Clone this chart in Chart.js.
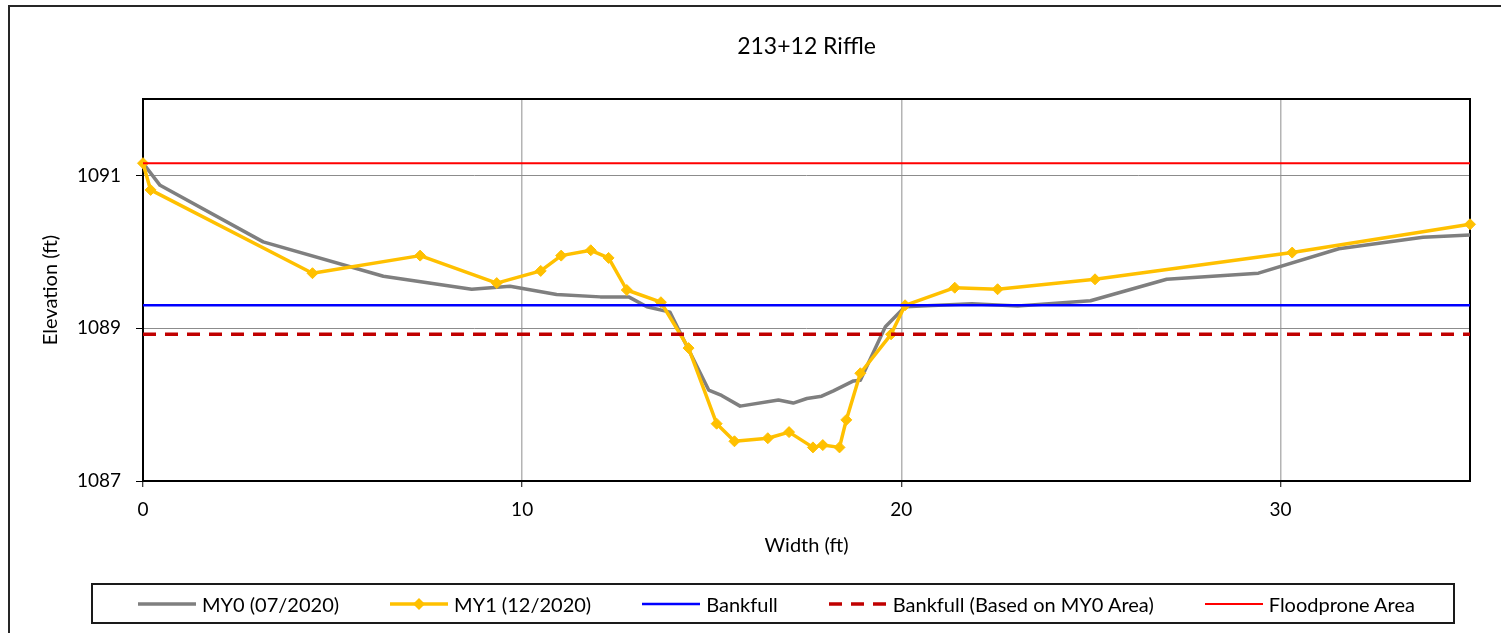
<!DOCTYPE html>
<html lang="en">
<head>
<meta charset="utf-8">
<title>213+12 Riffle</title>
<script src="https://cdn.jsdelivr.net/npm/chart.js@4.4.1/dist/chart.umd.min.js"></script>
<style>
  html, body { margin: 0; padding: 0; background: #fff; overflow: hidden; }
  #wrap { position: relative; width: 1501px; height: 633px; }
  #frame { position: absolute; left: 8px; top: 5px; width: 1600px; height: 700px; border: 2px solid #262626; box-sizing: border-box; }
  #grafico { position: absolute; left: 0; top: 0; }
  #legenda { position: absolute; left: 91px; top: 583px; width: 1364px; height: 41px; border: 2px solid #1a1a1a; box-sizing: border-box;
             display: flex; align-items: center; padding-left: 45px; font-family: Lato, "Open Sans", sans-serif; font-size: 20px; color: #000; }
  .item { display: flex; align-items: center; margin-right: 51px; white-space: nowrap; }
  .item canvas { margin-right: 6px; }
</style>
</head>
<body>
<div id="wrap">
  <div id="frame"></div>
  <canvas id="grafico" width="1501" height="633"></canvas>
  <div id="legenda"></div>
</div>
<script>
/* ================= DADOS ================= */
const titulo = "213+12 Riffle";

const my0X = [0, 0.45, 3.17, 6.34, 8.67, 9.68, 10.91, 12.06, 12.81, 13.29, 13.9, 14.92, 15.26, 15.75, 16.76, 17.15,
  17.51, 17.9, 18.21, 18.74, 18.92, 19.58, 20.1, 21.86, 23.07, 24.99, 27.0, 29.42, 31.54, 33.76, 35];
const my0Y = [1091.16, 1090.87, 1090.13, 1089.68, 1089.51, 1089.55, 1089.44, 1089.41, 1089.41, 1089.28, 1089.21, 1088.19,
  1088.12, 1087.98, 1088.06, 1088.02, 1088.08, 1088.11, 1088.18, 1088.31, 1088.32, 1089.02, 1089.28, 1089.32, 1089.29,
  1089.36, 1089.64, 1089.72, 1090.04, 1090.19, 1090.22];

const my1X = [0, 0.2, 4.47, 7.31, 9.33, 10.49, 11.03, 11.81, 12.28, 12.76, 13.66, 14.39, 15.13, 15.6, 16.48, 17.04,
  17.67, 17.93, 18.37, 18.55, 18.92, 19.73, 20.1, 21.41, 22.54, 25.11, 30.31, 35];
const my1Y = [1091.16, 1090.81, 1089.72, 1089.95, 1089.59, 1089.75, 1089.95, 1090.02, 1089.92, 1089.5, 1089.34, 1088.74,
  1087.75, 1087.52, 1087.56, 1087.64, 1087.44, 1087.47, 1087.44, 1087.8, 1088.41, 1088.92, 1089.3, 1089.53, 1089.51,
  1089.64, 1089.99, 1090.36];

const bankfull = 1089.30;
const bankfullMY0 = 1088.92;
const floodprone = 1091.16;

const xLimites = [0, 35];
const yLimites = [1087, 1092];
const xTicks = [0, 10, 20, 30];
const yTicks = [1087, 1089, 1091];

/* ================= HELPERS ================= */
const pontos = (xs, ys) => xs.map((x, i) => ({ x, y: ys[i] }));
const nivel = y => xLimites.map(x => ({ x, y }));

Chart.defaults.font.family = "Lato, 'Open Sans', sans-serif";
Chart.defaults.color = "#000";

/* moldura preta da área do gráfico */
const moldura = {
  id: "moldura",
  beforeDatasetsDraw(chart) {
    const { ctx, chartArea: a } = chart;
    ctx.save();
    ctx.strokeStyle = "#000";
    ctx.lineWidth = 2;
    ctx.strokeRect(a.left, a.top, a.right - a.left, a.bottom - a.top);
    ctx.restore();
  }
};

const datasets = [
  { label: "MY0 (07/2020)", data: pontos(my0X, my0Y), borderColor: "#7f7f7f", borderWidth: 3.5,
    pointRadius: 0, borderJoinStyle: "round", borderCapStyle: "round", order: 5 },
  { label: "MY1 (12/2020)", data: pontos(my1X, my1Y), borderColor: "#ffc000", backgroundColor: "#ffc000", borderWidth: 3.5,
    pointStyle: "rectRot", pointRadius: 5.5, pointBorderWidth: 1, borderJoinStyle: "round", borderCapStyle: "round",
    clip: false, order: 4 },
  { label: "Bankfull", data: nivel(bankfull), borderColor: "#0000ff", borderWidth: 2.5, pointRadius: 0, order: 3 },
  { label: "Bankfull (Based on MY0 Area)", data: nivel(bankfullMY0), borderColor: "#c00000", borderWidth: 3.5,
    borderDash: [13, 9], pointRadius: 0, order: 2 },
  { label: "Floodprone Area", data: nivel(floodprone), borderColor: "#ff0000", borderWidth: 2, pointRadius: 0, order: 1 }
];

const grafico = new Chart(document.getElementById("grafico"), {
  type: "line",
  data: { datasets },
  plugins: [moldura],
  options: {
    responsive: false,
    animation: false,
    layout: { padding: { top: 0, left: 35, right: 31, bottom: 75 } },
    elements: { line: { tension: 0, fill: false } },
    plugins: {
      legend: { display: false },
      tooltip: { enabled: false },
      title: {
        display: true, text: titulo, fullSize: false, color: "#000",
        font: { size: 23, weight: "normal" }, padding: { top: 33.2, bottom: 38.2 }
      }
    },
    scales: {
      x: {
        type: "linear", min: xLimites[0], max: xLimites[1],
        afterBuildTicks: s => { s.ticks = xTicks.map(v => ({ value: v })); },
        afterFit: s => { s.height = 77; },
        grid: { color: "#b4b4b4", lineWidth: 1.5, tickColor: "#000", tickLength: 6, tickWidth: 1 },
        border: { display: false },
        ticks: { font: { size: 19 }, padding: 11, maxRotation: 0, callback: v => String(v) },
        title: { display: true, text: "Width (ft)", font: { size: 20 }, padding: { top: 0, bottom: 0 } }
      },
      y: {
        type: "linear", min: yLimites[0], max: yLimites[1],
        afterBuildTicks: s => { s.ticks = yTicks.map(v => ({ value: v })); },
        afterFit: s => { s.width = 108; },
        grid: { color: "#8c8c8c", lineWidth: 1, tickColor: "#000", tickLength: 7, tickWidth: 1 },
        border: { display: false },
        ticks: { font: { size: 19 }, padding: 15, callback: v => String(v) },
        title: { display: true, text: "Elevation (ft)", font: { size: 20 }, padding: { top: 4, bottom: 4 } }
      }
    }
  }
});

/* ================= LEGENDA ================= */
function simbolo(ds) {
  const c = document.createElement("canvas");
  c.width = 58; c.height = 16;
  const g = c.getContext("2d");
  g.strokeStyle = ds.borderColor;
  g.lineWidth = ds.borderWidth;
  g.setLineDash(ds.borderDash || []);
  g.beginPath(); g.moveTo(0, 8); g.lineTo(58, 8); g.stroke();
  if (ds.pointStyle === "rectRot") {
    g.fillStyle = ds.backgroundColor;
    g.beginPath(); g.moveTo(23, 8); g.lineTo(29, 2); g.lineTo(35, 8); g.lineTo(29, 14); g.closePath(); g.fill();
  }
  return c;
}

const legenda = document.getElementById("legenda");
grafico.data.datasets.forEach(ds => {
  const item = document.createElement("div");
  item.className = "item";
  item.appendChild(simbolo(ds));
  const txt = document.createElement("span");
  txt.textContent = ds.label;
  item.appendChild(txt);
  legenda.appendChild(item);
});
</script>
</body>
</html>
